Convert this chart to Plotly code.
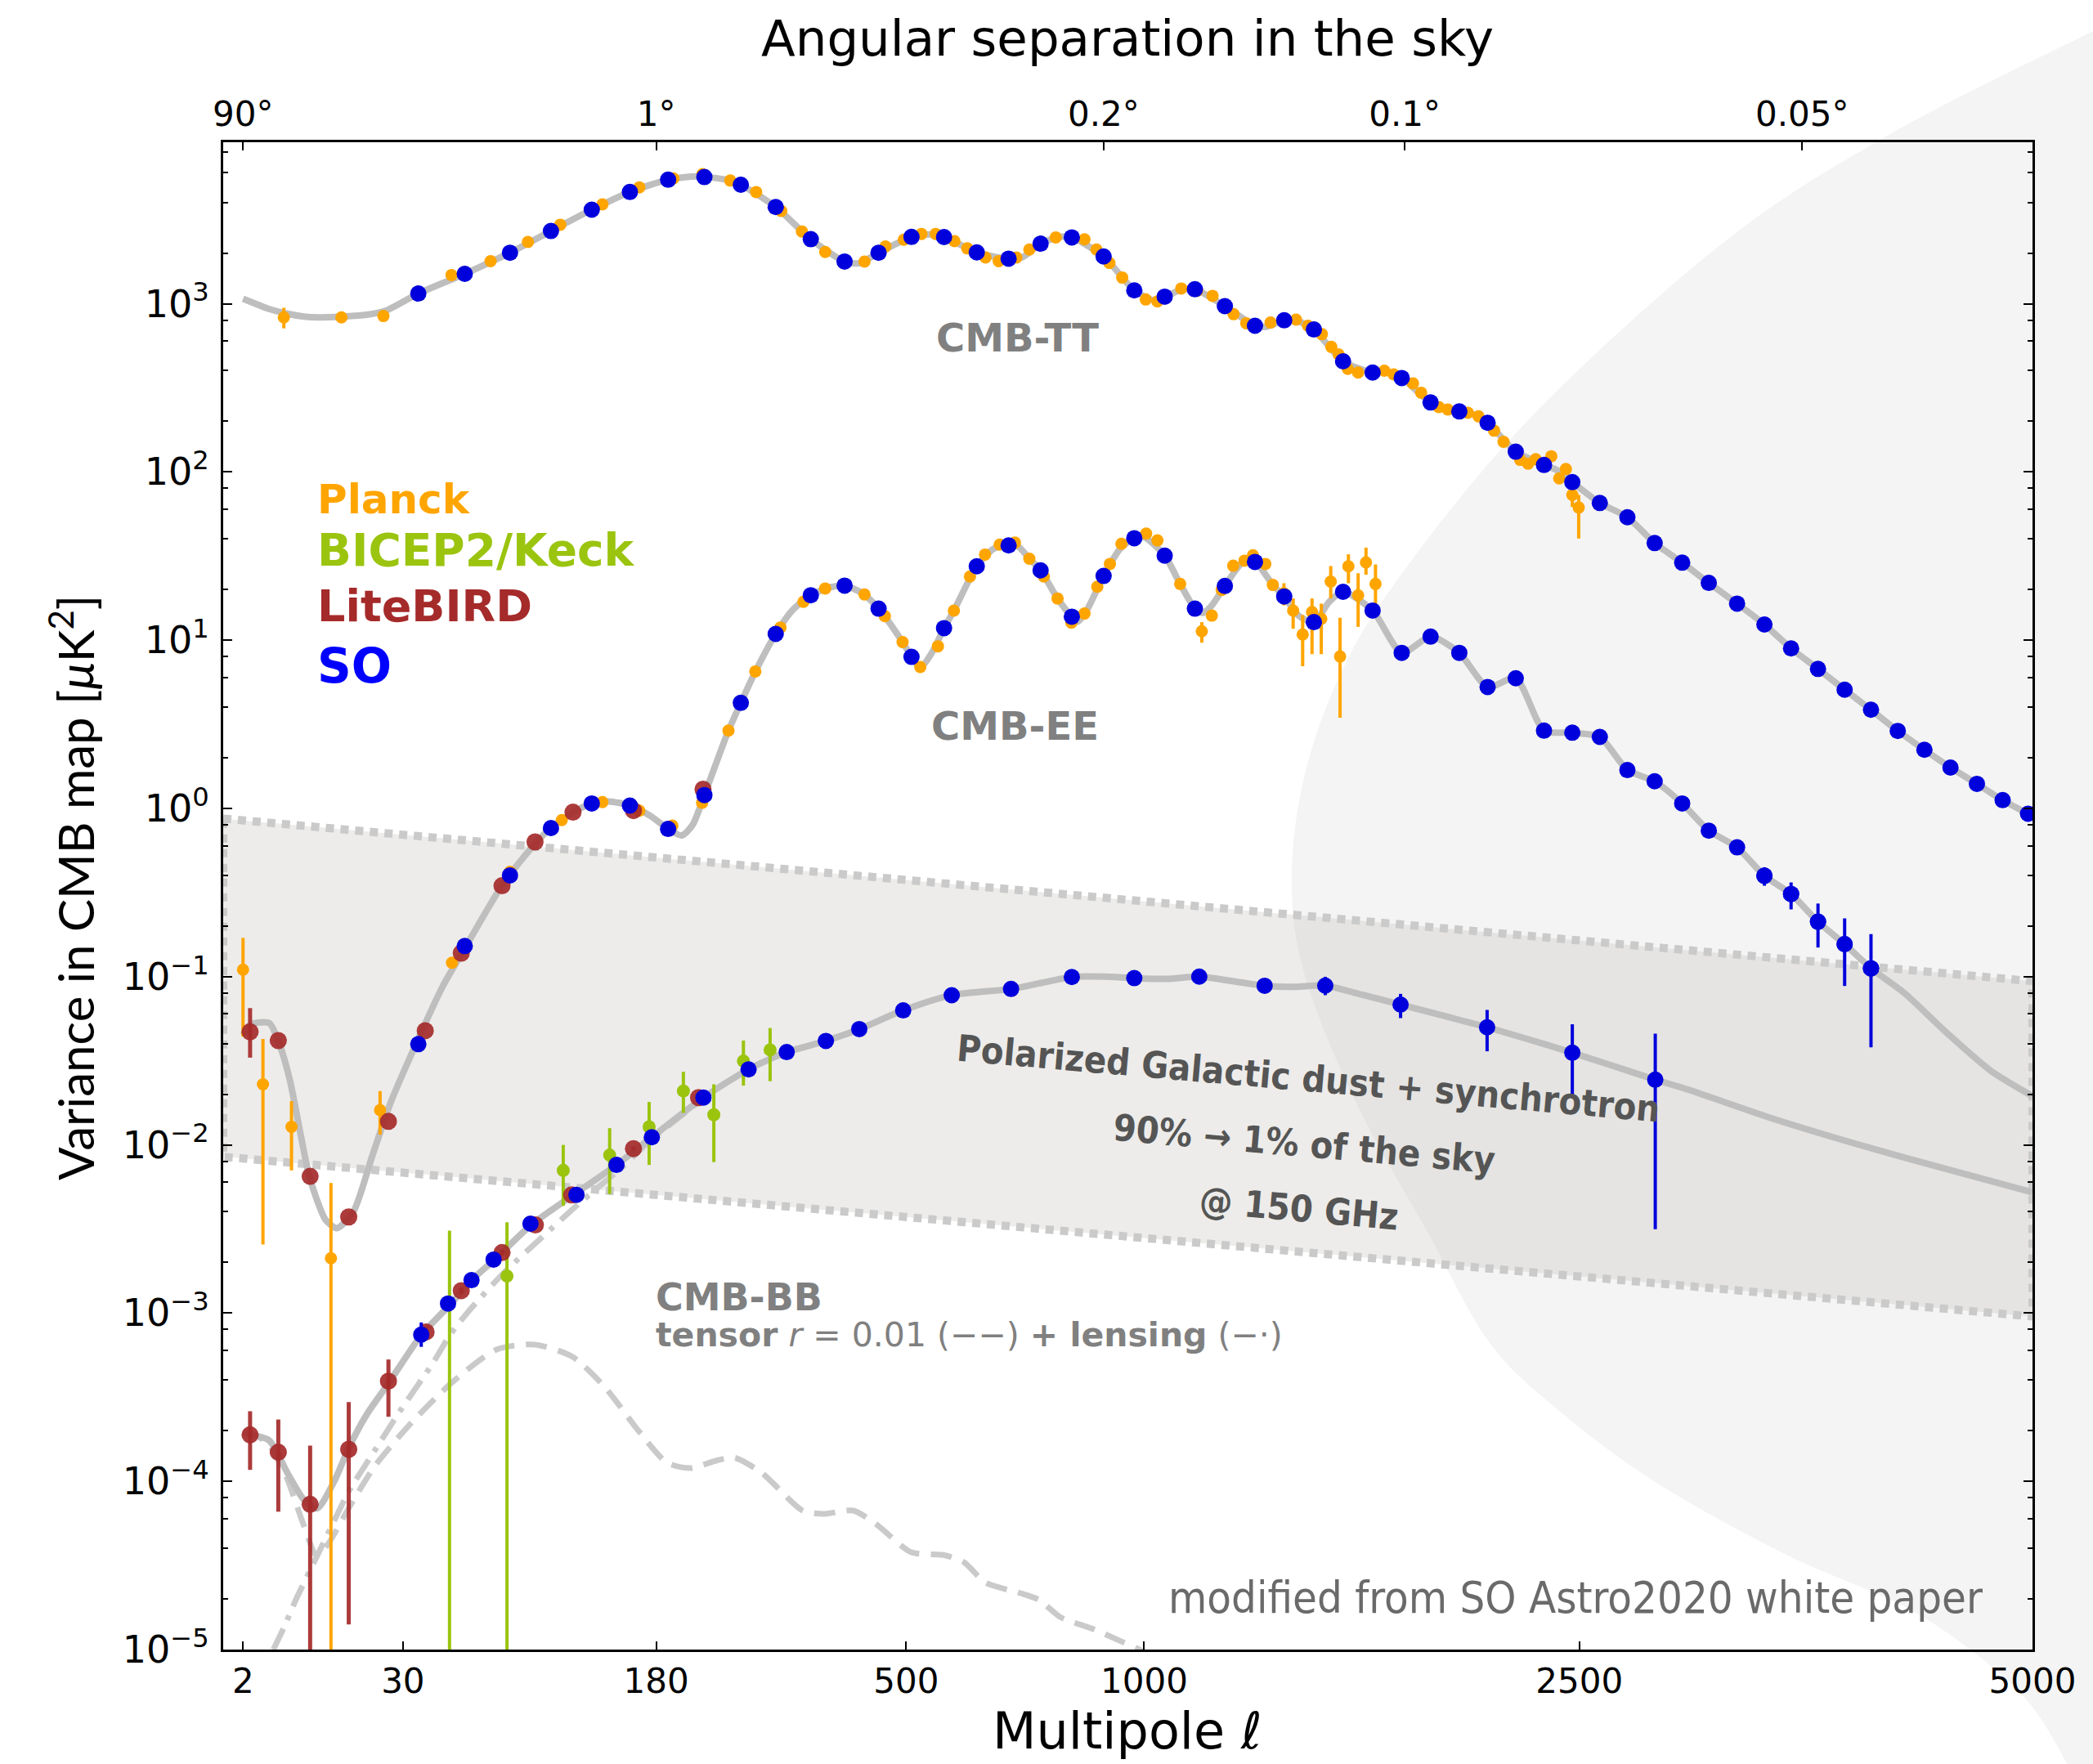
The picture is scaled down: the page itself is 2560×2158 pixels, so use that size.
import numpy as np
import plotly.graph_objects as go

# ---------------- data: CMB power spectra D_ell [muK^2] ----------------
# theory curves
tt_ell = [2, 3, 4, 6, 8, 10, 15, 20, 25, 35, 53, 75, 99, 127, 157, 191, 220, 255, 267, 309,
          355, 403, 425, 455, 509, 540, 566, 627, 690, 720, 757, 800, 826, 900, 975, 1025, 1053,
          1100, 1134, 1218, 1306, 1340, 1395, 1430, 1489, 1585, 1686, 1720, 1789, 1895, 2004, 2060,
          2115, 2229, 2347, 2400, 2469, 2591, 2717, 2845, 2978, 3110, 3254, 3397, 3540, 3688, 3838,
          3990, 4148, 4309, 4470, 4637, 4803, 4970, 5000]
tt_dl = [1070, 990, 930, 870, 840, 830, 840, 860, 910, 1150, 1505, 2010, 2706, 3623, 4616, 5460,
         5720, 5400, 5100, 3760, 2420, 1782, 1740, 2010, 2495, 2580, 2490, 2020, 1853, 1900, 2275,
         2500, 2480, 1910, 1200, 1050, 1102, 1215, 1219, 968, 740, 730, 797, 800, 703, 455, 390, 395,
         362, 259, 229, 220, 196, 132, 110, 103, 87, 65.4, 53.8, 37.8, 28.9, 21.9, 16.5, 12.4, 8.93,
         6.75, 5.08, 3.86, 2.89, 2.23, 1.75, 1.40, 1.12, 0.93, 0.90]

ee_ell = [2, 2.5, 4, 5, 6.2, 7.5, 8.7, 10, 11.4, 13.5, 16.9, 21.3, 26.4, 33.7, 43.8, 53.6, 71.6, 90,
          99, 114, 127, 140, 157, 175, 191, 204, 215, 227, 253, 267, 284, 309, 330, 355, 380, 403,
          430, 455, 494, 509, 524, 545, 566, 584, 627, 660, 690, 710, 733, 757, 794, 826, 840, 860,
          900, 940, 975, 1000, 1053, 1094, 1134, 1155, 1180, 1218, 1270, 1306, 1360, 1395, 1440,
          1489, 1540, 1585, 1686, 1789, 1895, 2004, 2115, 2229, 2347, 2469, 2591, 2717, 2845, 2978,
          3110, 3254, 3397, 3540, 3688, 3838, 3990, 4187, 4451, 4728, 5000]
ee_dl = [0.045, 0.052, 0.053, 0.040, 0.0243, 0.012, 0.0068, 0.0047, 0.0036, 0.0032, 0.0040, 0.0085,
         0.018, 0.038, 0.087, 0.152, 0.36, 0.63, 0.764, 0.95, 1.07, 1.10, 1.04, 0.90, 0.755, 0.69,
         0.80, 1.2, 2.9, 4.24, 6.5, 10.9, 15, 18.5, 20.5, 21.1, 19, 15.4, 9.75, 7.96, 6.9, 8.5, 11.8,
         15, 27.5, 35, 36.6, 36, 30.5, 26, 17.7, 13.8, 12.9, 15, 24.1, 35, 40.4, 41, 31.8, 21.6,
         15.4, 14.5, 16, 21, 29, 29.2, 21.3, 18.2, 14, 12.8, 17, 19.4, 15, 8.41, 10.5, 8.41, 5.27,
         5.94, 2.9, 2.82, 2.66, 1.69, 1.45, 1.07, 0.738, 0.587, 0.398, 0.31, 0.212, 0.156, 0.112,
         0.080, 0.046, 0.0275, 0.0195]

bb_ell = [2, 2.5, 4, 6, 8, 10, 13, 16, 20, 26, 36, 47, 56, 67, 87, 114, 146, 176, 226, 276, 323,
          376, 425, 495, 580, 695, 760, 826, 900, 975, 1060, 1146, 1240, 1335, 1430, 1526, 1650,
          1785, 2113, 2469, 2848, 3007, 3452, 3933, 4454, 5000]
bb_dl = [1.97e-4, 1.9e-4, 1.75e-4, 1.1e-4, 7.8e-5, 6.9e-5, 1.0e-4, 1.6e-4, 2.5e-4, 3.9e-4, 7.4e-4,
         1.13e-3, 1.57e-3, 2.08e-3, 3.35e-3, 5.05e-3, 7.6e-3, 0.0111, 0.0191, 0.0281, 0.0356,
         0.0415, 0.0488, 0.063, 0.0776, 0.0845, 0.092, 0.0995, 0.100, 0.098, 0.097, 0.100, 0.094,
         0.0883, 0.087, 0.0885, 0.078, 0.0682, 0.050, 0.0353, 0.0244, 0.0213, 0.0142, 0.00993,
         0.00714, 0.00523]

# primordial tensor (r = 0.01) and lensing B-modes
tensor_ell = [2, 3, 4, 5, 6, 8, 10, 12, 16, 22, 32, 47, 68, 89, 113, 137, 165, 190, 213, 240, 260,
              292, 344, 372, 416, 452, 508, 568, 603, 644, 713, 754, 800, 877, 942, 994, 1020]
tensor_dl = [1.95e-4, 1.85e-4, 1.65e-4, 1.3e-4, 1.0e-4, 5.5e-5, 3.6e-5, 4.3e-5, 7.0e-5, 1.23e-4,
             2.16e-4, 3.8e-4, 6.07e-4, 6.5e-4, 5.52e-4, 3.62e-4, 1.97e-4, 1.29e-4, 1.2e-4, 1.33e-4,
             1.38e-4, 1.12e-4, 6.7e-5, 6.4e-5, 6.7e-5, 5.53e-5, 3.8e-5, 3.63e-5, 3.3e-5, 2.5e-5,
             2.17e-5, 1.97e-5, 1.56e-5, 1.32e-5, 1.12e-5, 9.8e-6, 8.5e-6]
lensing_ell = [4.4, 5.5, 7, 9, 12, 16, 21, 29, 40, 47, 54, 72, 93, 118, 150, 176, 226]
lensing_dl = [1.0e-5, 1.35e-5, 2.0e-5, 3.0e-5, 5.0e-5, 8.8e-5, 1.4e-4, 2.6e-4, 5.0e-4, 7.5e-4,
              1.0e-3, 1.75e-3, 2.8e-3, 4.5e-3, 7.3e-3, 0.0108, 0.0189]

# polarized Galactic foregrounds at 150 GHz (upper: 90% sky, lower: 1% sky)
fg_ell = [1, 5000]
fg_high = [0.87, 0.094]
fg_low = [8.5e-3, 9.55e-4]

# ---- Simons Observatory forecast bandpowers
so_ell = [35, 53, 75, 99, 127, 157, 191, 227, 267, 309, 355, 403, 455, 509, 566, 627, 690, 757, 826,
          900, 975, 1053, 1134, 1218, 1306, 1395, 1489, 1585, 1686, 1789, 1895, 2004, 2115, 2229,
          2347, 2469, 2591, 2717, 2845, 2978, 3110, 3254, 3397, 3540, 3688, 3838, 3990, 4148, 4309,
          4470, 4637, 4803, 4970]
so_tt = [1150, 1505, 2010, 2706, 3623, 4616, 5460, 5665, 5100, 3760, 2420, 1782, 2010, 2495, 2490,
         2020, 1853, 2275, 2480, 1910, 1200, 1102, 1219, 968, 740, 797, 703, 455, 390, 362, 259, 229,
         196, 132, 110, 87, 65.4, 53.8, 37.8, 28.9, 21.9, 16.5, 12.4, 8.93, 6.75, 5.08, 3.86, 2.89,
         2.23, 1.75, 1.40, 1.12, 0.93]
so_ee = [0.0397, 0.152, 0.40, 0.764, 1.07, 1.04, 0.755, 1.2, 4.24, 10.9, 18.5, 21.1, 15.4, 7.96,
         11.8, 27.5, 36.6, 26, 13.8, 24.1, 40.4, 31.8, 15.4, 21, 29.2, 18.2, 12.8, 19.4, 15, 8.41,
         10.5, 8.41, 5.27, 5.94, 2.9, 2.82, 2.66, 1.69, 1.45, 1.07, 0.738, 0.587, 0.398, 0.31,
         0.212, 0.156, 0.112]
so_ee_err_ell = [3397, 3540, 3688, 3838, 3990]
so_ee_err_dl = [0.398, 0.31, 0.212, 0.156, 0.112]
so_ee_err_lo = [0.347, 0.251, 0.149, 0.088, 0.038]
so_ee_err_hi = [0.447, 0.363, 0.272, 0.222, 0.179]

so_bb_ell = [36, 46, 56, 66.5, 86.5, 116, 146, 176, 226, 276, 323, 376, 425, 495, 580, 695, 826,
             975, 1146, 1335, 1526, 1785, 2113, 2469, 2848]
so_bb = [7.45e-4, 1.14e-3, 1.57e-3, 2.08e-3, 3.4e-3, 5.05e-3, 7.6e-3, 0.0111, 0.0191, 0.0281,
         0.0356, 0.0415, 0.0488, 0.063, 0.0776, 0.0845, 0.0995, 0.098, 0.100, 0.0883, 0.0885,
         0.0682, 0.050, 0.0353, 0.0244]
so_bb_lo = [6.3e-4, 1.07e-3, 1.5e-3, 2.0e-3, 3.3e-3, 4.85e-3, 7.3e-3, 0.0107, 0.0185, 0.0270,
            0.0340, 0.0395, 0.0465, 0.0605, 0.0745, 0.081, 0.096, 0.0945, 0.094, 0.082, 0.0776,
            0.0567, 0.036, 0.0199, 0.00315]
so_bb_hi = [8.8e-4, 1.21e-3, 1.64e-3, 2.16e-3, 3.5e-3, 5.25e-3, 7.9e-3, 0.0115, 0.0197, 0.0292,
            0.0372, 0.0437, 0.0512, 0.0655, 0.0808, 0.088, 0.103, 0.1015, 0.106, 0.094, 0.0998,
            0.079, 0.0634, 0.0521, 0.0458]

# ---- Planck
planck_tt_ell = [14.4, 24.3, 47.4, 65, 85, 105, 135, 165, 196, 225, 255, 285, 316, 343, 375, 433,
                 466, 496, 526, 551, 585, 609, 644, 670, 706, 733, 790, 855, 883, 914, 945, 1004,
                 1034, 1097, 1140, 1183, 1243, 1280, 1300, 1353, 1400, 1432, 1470, 1515, 1546, 1570,
                 1601, 1636, 1680, 1727, 1760, 1830, 1860, 1926, 1960, 2000, 2037, 2079, 2110, 2141,
                 2179, 2247, 2280, 2312, 2350, 2378, 2412, 2441]
planck_tt = [830, 845, 1480, 1790, 2330, 2950, 3900, 4920, 5560, 5890, 5400, 4614, 3560, 2690, 2030,
             1782, 2190, 2400, 2600, 2600, 2355, 2133, 1883, 1792, 1883, 2100, 2480, 2416, 2100,
             1746, 1430, 1060, 1032, 1232, 1195, 1114, 867, 766, 745, 773, 800, 805, 740, 659, 554,
             500, 410, 390, 392, 400, 380, 336, 296, 243, 235, 232, 225, 214, 195, 176, 151, 118,
             112, 119, 112, 124, 91.6, 104]
planck_tt_err_ell = [5.5, 2469, 2497]
planck_tt_err_dl = [830, 73, 61.5]
planck_tt_err_lo = [714, 62, 40.2]
planck_tt_err_hi = [946, 80, 73]

planck_ee_ell = [47.6, 75, 106, 135, 165, 195, 224.6, 253, 284, 315, 345, 375, 433, 465, 494, 524,
                 555, 584, 614, 643, 672, 703, 733, 764, 794, 825, 855, 885, 915, 943, 1005, 1034,
                 1094, 1181, 1209, 1242, 1275, 1300, 1337, 1360]
planck_ee = [0.121, 0.42, 0.853, 1.09, 0.97, 0.79, 1.08, 2.9, 6.52, 11.9, 16.9, 20.3, 18.7, 13.9,
             9.75, 6.93, 9.2, 15, 23.9, 32.3, 37, 38, 30.5, 23.9, 17.7, 12.7, 14.4, 20.8, 28.4,
             37.4, 43, 39.2, 21.6, 14, 19.9, 27.7, 29.7, 32, 28.4, 21.3]
planck_ee_err_ell = [2, 3.45, 6.4, 12.4, 23.4, 1153, 1394, 1423, 1453, 1483, 1513, 1544, 1575,
                     1603, 1636, 1663, 1696]
planck_ee_err_dl = [0.110, 0.0229, 0.0128, 0.00212, 0.0161, 11.3, 19, 15.0, 10.8, 14.7, 13.4,
                    22.3, 8.0, 27.5, 18.5, 29, 21.6]
planck_ee_err_lo = [0.044, 0.00256, 0.00705, 1e-7, 0.0115, 9.66, 16.1, 11.7, 7.0, 8.26, 8.26,
                    17.7, 3.46, 21.8, 12, 24.5, 15.8]
planck_ee_err_hi = [0.17, 0.0426, 0.0182, 0.00594, 0.0209, 12.8, 21.8, 17.7, 14.1, 17.7, 16.5,
                    27.6, 13.6, 32.4, 25, 35.5, 28.2]

# ---- BICEP2/Keck B-modes (first band power is negative: only its upper bar shows)
bk_ell = [46.6, 73.4, 107, 140.6, 173.6, 205.7, 237, 270, 302]
bk_bb = [1e-7, 1.66e-3, 7.05e-3, 8.7e-3, 0.0128, 0.0209, 0.0151, 0.0315, 0.0367]
bk_lo = [1e-8, 1e-8, 4.34e-3, 5.1e-3, 7.6e-3, 0.0155, 7.9e-3, 0.0225, 0.0239]
bk_hi = [3.09e-3, 3.47e-3, 0.0100, 0.01257, 0.018, 0.0272, 0.0229, 0.0417, 0.0495]

# ---- LiteBIRD forecast
lb_ell = [2.46, 4.9, 8.94, 15.9, 25.7, 37.4, 51.5, 70.8, 89.2, 113.6, 160, 225.6]
lb_ee = [0.047, 0.0417, 0.0065, 0.00373, 0.0138, 0.0477, 0.138, 0.347, 0.632, 0.95, 0.97, 1.30]
lb_ee_lo = [0.033, 0.0417, 0.0065, 0.00373, 0.0138, 0.0477, 0.138, 0.347, 0.632, 0.95, 0.97, 1.30]
lb_ee_hi = [0.065, 0.0417, 0.0065, 0.00373, 0.0138, 0.0477, 0.138, 0.347, 0.632, 0.95, 0.97, 1.30]
lb_bb_ell = [2.46, 4.9, 8.94, 15.9, 25.7, 37.7, 51.5, 70.8, 89.4, 112.7, 160, 221]
lb_bb = [1.89e-4, 1.49e-4, 7.3e-5, 1.55e-4, 3.94e-4, 7.73e-4, 1.36e-3, 2.29e-3, 3.34e-3, 5.04e-3,
         9.5e-3, 0.0191]
lb_bb_lo = [1.17e-4, 6.6e-5, 1e-7, 1.41e-5, 2.42e-4, 7.2e-4, 1.3e-3, 2.2e-3, 3.25e-3, 4.9e-3,
            9.2e-3, 0.0186]
lb_bb_hi = [2.61e-4, 2.33e-4, 1.63e-4, 2.96e-4, 5.3e-4, 8.3e-4, 1.42e-3, 2.38e-3, 3.43e-3, 5.2e-3,
            9.8e-3, 0.0196]

# axis ticks
ell_ticks = [2, 30, 180, 500, 1000, 2500, 5000]
ang_tick_ell = [2, 180, 900, 1800, 3600]
ang_tick_text = ["90°", "1°", "0.2°", "0.1°", "0.05°"]

# ---------------- styling ----------------
ORANGE = "#ffa500"
GREEN = "#9bc40f"
BROWN = "rgba(165,42,42,0.92)"
BLUE = "#0000dd"
GREY = "rgb(190,190,190)"
GREY_D = "rgb(202,202,202)"

W, H = 2560, 2158
ML, MR, MT, MB = 273, 74, 174, 140
PW, PH = W - ML - MR, H - MT - MB

POW = 0.4  # horizontal axis is linear in ell**0.4


def xs(ell):
    return np.asarray(ell, dtype=float) ** POW


def paper_x(px):
    return (px - ML) / PW


def paper_y(py):
    return (H - MB - py) / PH


def theory(ell, dl, dash="solid", width=8, color=GREY):
    return go.Scatter(x=xs(ell), y=dl, mode="lines", hoverinfo="skip", showlegend=False,
                      line=dict(color=color, width=width, dash=dash, shape="spline", smoothing=0.7))


def bandpowers(ell, dl, color, size, lo=None, hi=None, bar=4):
    err = None
    if lo is not None:
        d = np.asarray(dl, float)
        err = dict(type="data", symmetric=False, array=np.asarray(hi, float) - d,
                   arrayminus=d - np.asarray(lo, float), thickness=bar, width=0, color=color)
    return go.Scatter(x=xs(ell), y=dl, mode="markers", hoverinfo="skip", showlegend=False,
                      marker=dict(color=color, size=size, line=dict(width=0)), error_y=err)


fig = go.Figure()

# foreground band
fig.add_trace(go.Scatter(
    x=xs([fg_ell[0], fg_ell[1], fg_ell[1], fg_ell[0], fg_ell[0]]),
    y=[fg_high[0], fg_high[1], fg_low[1], fg_low[0], fg_high[0]],
    mode="lines", fill="toself", fillcolor="rgba(200,196,192,0.33)",
    line=dict(color=GREY_D, width=10, dash="10px,8px"), hoverinfo="skip", showlegend=False))

# theory curves
fig.add_trace(theory(lensing_ell, lensing_dl, dash="28px,12px,6px,12px", width=7, color=GREY_D))
fig.add_trace(theory(tensor_ell, tensor_dl, dash="26px,14px", width=7, color=GREY_D))
fig.add_trace(theory(bb_ell, bb_dl))
fig.add_trace(theory(ee_ell, ee_dl))
fig.add_trace(theory(tt_ell, tt_dl))

# Planck
fig.add_trace(bandpowers(planck_tt_ell, planck_tt, ORANGE, 15))
fig.add_trace(bandpowers(planck_tt_err_ell, planck_tt_err_dl, ORANGE, 15,
                         planck_tt_err_lo, planck_tt_err_hi, bar=4))
fig.add_trace(bandpowers(planck_ee_ell, planck_ee, ORANGE, 15))
fig.add_trace(bandpowers(planck_ee_err_ell, planck_ee_err_dl, ORANGE, 15,
                         planck_ee_err_lo, planck_ee_err_hi, bar=4))
# BICEP2/Keck
fig.add_trace(bandpowers(bk_ell, bk_bb, GREEN, 16, bk_lo, bk_hi, bar=4))
# LiteBIRD
fig.add_trace(bandpowers(lb_ell, lb_ee, BROWN, 21, lb_ee_lo, lb_ee_hi, bar=5))
fig.add_trace(bandpowers(lb_bb_ell, lb_bb, BROWN, 21, lb_bb_lo, lb_bb_hi, bar=5))
# SO
fig.add_trace(bandpowers(so_ell, so_tt, BLUE, 20))
fig.add_trace(bandpowers(so_ell[:len(so_ee)], so_ee, BLUE, 20))
fig.add_trace(bandpowers(so_ee_err_ell, so_ee_err_dl, BLUE, 20, so_ee_err_lo, so_ee_err_hi, bar=4))
fig.add_trace(bandpowers(so_bb_ell, so_bb, BLUE, 20, so_bb_lo, so_bb_hi, bar=4))

# carrier for the angular-scale axis on top
fig.add_trace(go.Scatter(x=xs([2]), y=[1e-5], xaxis="x2", yaxis="y", mode="markers",
                         marker=dict(opacity=0), hoverinfo="skip", showlegend=False))

# ---------------- background disk ----------------
edge_px = [(2560, 38), (2310, 165), (2105, 299), (1869, 514), (1705, 715), (1633, 839),
           (1592, 965), (1580, 1089), (1599, 1203), (1662, 1356), (1747, 1509), (1820, 1640),
           (1900, 1720), (2023, 1812), (2185, 1902), (2345, 1974), (2470, 2070), (2530, 2160)]
pts = [(paper_x(x), paper_y(y)) for x, y in edge_px]


def catmull_path(p):
    d = f"M {p[0][0]:.5f},{p[0][1]:.5f}"
    for i in range(len(p) - 1):
        p0 = p[i - 1] if i > 0 else p[i]
        p1, p2 = p[i], p[i + 1]
        p3 = p[i + 2] if i + 2 < len(p) else p2
        c1 = (p1[0] + (p2[0] - p0[0]) / 6, p1[1] + (p2[1] - p0[1]) / 6)
        c2 = (p2[0] - (p3[0] - p1[0]) / 6, p2[1] - (p3[1] - p1[1]) / 6)
        d += f" C {c1[0]:.5f},{c1[1]:.5f} {c2[0]:.5f},{c2[1]:.5f} {p2[0]:.5f},{p2[1]:.5f}"
    d += f" L 1.3,{p[-1][1]:.5f} L 1.3,{p[0][1]:.5f} Z"
    return d


shapes = [dict(type="path", xref="paper", yref="paper", layer="below",
               path=catmull_path(pts), fillcolor="rgb(244,244,244)", line=dict(width=0))]

# ---------------- text ----------------
SANS = "DejaVu Sans, sans-serif"
LIGHT = "Lato, DejaVu Sans, sans-serif"
BOLD = "DejaVu Sans, sans-serif"
NARROW = "DejaVu Sans Condensed, Liberation Sans Narrow, Roboto, sans-serif"


def label(text, px, py, size, color="black", family=SANS, xanchor="center", angle=0):
    return dict(text=text, x=paper_x(px), y=paper_y(py), xref="paper", yref="paper",
                xanchor=xanchor, yanchor="middle", showarrow=False, textangle=angle,
                font=dict(family=family, size=size, color=color))


annotations = [
    label("Angular separation in the sky", 1379, 47, 61),
    label("Multipole <i>ℓ</i>", 1379, 2117, 62),
    label("Variance in CMB map [<i>μ</i>K<sup>2</sup>]", 88, 1086, 60, family=LIGHT, angle=-90),
    label("<b>Planck</b>", 386, 611, 50, ORANGE, BOLD, "left"),
    label("<b>BICEP2/Keck</b>", 386, 673, 55, GREEN, BOLD, "left"),
    label("<b>LiteBIRD</b>", 386, 741, 54, "#a52a2a", BOLD, "left"),
    label("<b>SO</b>", 386, 815, 58, "#0000ff", BOLD, "left"),
    label("<b>CMB-TT</b>", 1244, 413, 48, "#808080", BOLD),
    label("<b>CMB-EE</b>", 1241, 888, 48, "#808080", BOLD),
    label("<b>CMB-BB</b>", 800, 1587, 46, "#808080", BOLD, "left"),
    label("<b>tensor</b> <i>r</i> = 0.01 (−−) <b>+ lensing</b> (−·)", 800, 1633, 41,
          "#808080", BOLD, "left"),
    label("<b>Polarized Galactic dust + synchrotron</b>", 1600, 1319, 45, "#555555", NARROW,
          angle=5),
    label("<b>90% → 1% of the sky</b>", 1595, 1399, 45, "#555555", NARROW, angle=5),
    label("<b>@ 150 GHz</b>", 1589, 1478, 45, "#555555", NARROW, angle=5),
    label("modified from SO Astro2020 white paper", 1927, 1954, 54, "#6a6a6a", NARROW),
]

yt = [10.0 ** k for k in range(-5, 4)]
yt_text = [f"10<sup>{'−' if k < 0 else ''}{abs(k)}</sup>" for k in range(-5, 4)]
y_minor = [m * 10.0 ** k for k in range(-5, 4) for m in (2, 4, 6, 8)]

xrange_ = [1.0, 5000 ** POW]
common_x = dict(range=xrange_, showgrid=False, zeroline=False, showline=True, linecolor="black",
                linewidth=3, ticks="inside", ticklen=10, tickwidth=2, tickcolor="black",
                automargin=False, tickfont=dict(family=SANS, size=42, color="black"))

fig.update_layout(
    width=W, height=H, autosize=False,
    margin=dict(l=ML, r=MR, t=MT, b=MB, pad=0),
    paper_bgcolor="white", plot_bgcolor="rgba(0,0,0,0)",
    showlegend=False,
    xaxis=dict(**common_x, tickmode="array", tickvals=xs(ell_ticks),
               ticktext=[str(v) for v in ell_ticks], mirror=False, ticklabelstandoff=0),
    xaxis2=dict(**common_x, overlaying="x", side="top", tickmode="array",
                tickvals=xs(ang_tick_ell), ticktext=ang_tick_text, ticklabelstandoff=0),
    yaxis=dict(type="log", range=[-5, 3.96], showgrid=False, zeroline=False, showline=True,
               linecolor="black", linewidth=3, mirror="ticks", ticks="inside", ticklen=11,
               tickwidth=2, tickcolor="black", tickmode="array", tickvals=yt, ticktext=yt_text,
               automargin=False, ticklabelstandoff=5,
               tickfont=dict(family=SANS, size=46, color="black"),
               minor=dict(tickmode="array", tickvals=y_minor, ticks="inside", ticklen=6,
                          tickwidth=1.5, tickcolor="black", showgrid=False)),
    shapes=shapes,
    annotations=annotations,
)

fig.write_html("out.html", include_plotlyjs=True, config={"displayModeBar": False},
               post_script="document.body.style.margin='0';")
